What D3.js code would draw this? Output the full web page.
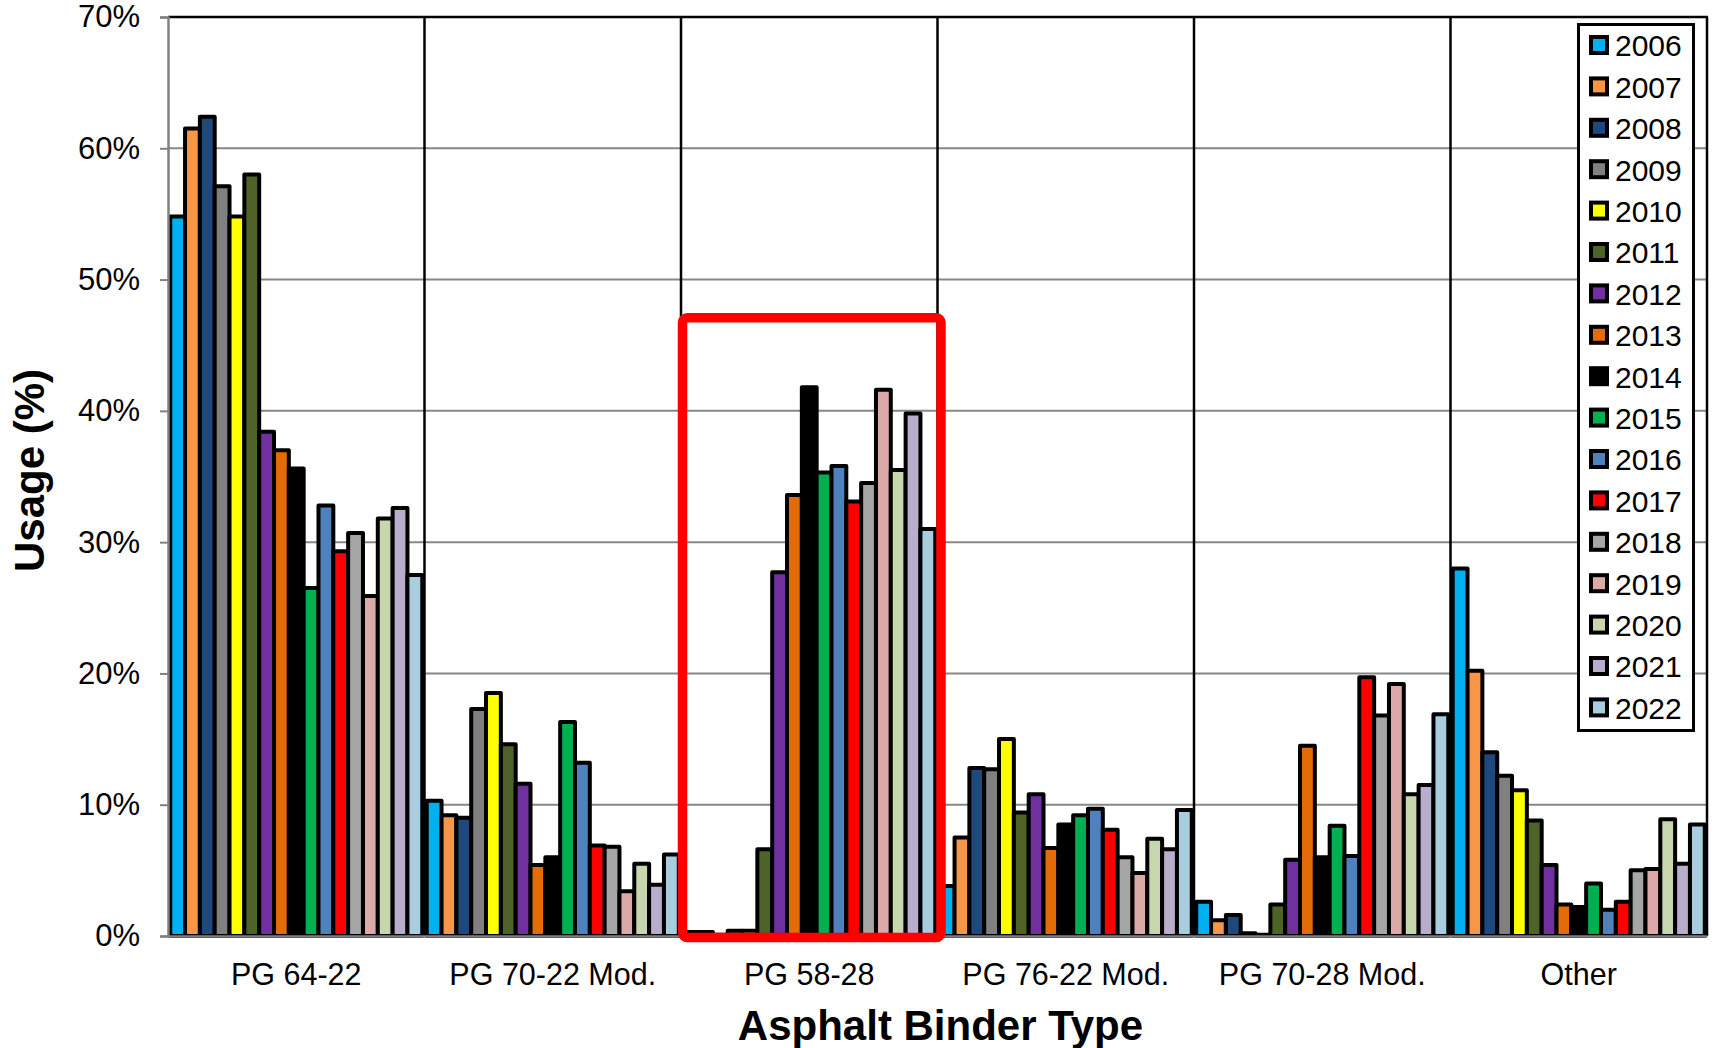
<!DOCTYPE html>
<html>
<head>
<meta charset="utf-8">
<script src="https://cdn.jsdelivr.net/npm/d3@7"></script>
<style>
  html, body { margin: 0; padding: 0; background: #fff; }
  svg { display: block; font-family: "Liberation Sans", Arial, sans-serif; }
</style>
</head>
<body>
<svg id="chart" width="1715" height="1048"></svg>
<script>
// ---- Data ----
const categories = ["PG 64-22", "PG 70-22 Mod.", "PG 58-28", "PG 76-22 Mod.", "PG 70-28 Mod.", "Other"];
const years = ["2006","2007","2008","2009","2010","2011","2012","2013","2014","2015","2016","2017","2018","2019","2020","2021","2022"];
const yearColors = ["#00B0F0","#F79646","#1F497D","#808080","#FFFF00","#4F6228","#7030A0","#E36C09","#000000","#00B050","#4F81BD","#FF0000","#A6A6A6","#DAA9A8","#C8D6AE","#B8ADCA","#A8CDDE"];

// usage (%) per category, one value per year 2006..2022
const pg6422  = [54.8, 61.5, 62.4, 57.1, 54.8, 58.0, 38.4, 37.0, 35.6, 26.5, 32.8, 29.3, 30.7, 25.9, 31.8, 32.6, 27.5];
const pg7022  = [10.3,  9.2,  9.0, 17.3, 18.5, 14.6, 11.6,  5.4,  6.0, 16.3, 13.2,  6.9,  6.8,  3.4,  5.5,  3.9,  6.2];
const pg5828  = [ 0.3,  0.3,  0.1,  0.4,  0.4,  6.6, 27.7, 33.6, 41.8, 35.3, 35.8, 33.1, 34.5, 41.6, 35.5, 39.8, 31.0];
const pg7622  = [ 3.8,  7.5, 12.8, 12.7, 15.0,  9.4, 10.8,  6.7,  8.5,  9.2,  9.7,  8.1,  6.0,  4.8,  7.4,  6.6,  9.6];
const pg7028  = [ 2.6,  1.2,  1.6,  0.2,  0.1,  2.4,  5.8, 14.5,  6.0,  8.4,  6.1, 19.7, 16.8, 19.2, 10.8, 11.5, 16.9];
const other   = [28.0, 20.2, 14.0, 12.2, 11.1,  8.8,  5.4,  2.4,  2.2,  4.0,  2.0,  2.6,  5.0,  5.1,  8.9,  5.5,  8.5];
const seriesByCategory = [pg6422, pg7022, pg5828, pg7622, pg7028, other];

const yTicks = [0, 10, 20, 30, 40, 50, 60, 70];
const highlighted = "PG 58-28";
const highlightTop = 47.1;

// ---- Layout ----
const svg = d3.select("#chart");
const plotLeft = 168, plotRight = 1707, plotTop = 17, plotBottom = 936;

const x0 = d3.scaleBand().domain(categories).range([plotLeft, plotRight]).padding(0);
const x1 = d3.scaleBand().domain(years).range([0, x0.bandwidth()]).paddingInner(0).paddingOuter(0.15);
const y = d3.scaleLinear().domain([0, 70]).range([plotBottom, plotTop]);
const color = d3.scaleOrdinal().domain(years).range(yearColors);

// gridlines
svg.append("g")
  .selectAll("line")
  .data(yTicks.filter(d => d > 0 && d < 70))
  .join("line")
  .attr("x1", plotLeft).attr("x2", plotRight)
  .attr("y1", d => y(d)).attr("y2", d => y(d))
  .attr("stroke", "#878787").attr("stroke-width", 2);

// top border and right border
svg.append("line").attr("x1", plotLeft).attr("x2", plotRight + 1)
  .attr("y1", y(70)).attr("y2", y(70)).attr("stroke", "#000").attr("stroke-width", 2.5);
svg.append("line").attr("x1", plotRight).attr("x2", plotRight)
  .attr("y1", y(70)).attr("y2", y(0)).attr("stroke", "#000").attr("stroke-width", 2.5);

// group separators
svg.append("g")
  .selectAll("line")
  .data(categories.slice(1))
  .join("line")
  .attr("x1", d => x0(d)).attr("x2", d => x0(d))
  .attr("y1", y(70)).attr("y2", y(0))
  .attr("stroke", "#000").attr("stroke-width", 2.5);

// bars
const rows = categories.map((c, i) => ({ cat: c, values: years.map((yr, j) => ({ year: yr, value: seriesByCategory[i][j] })) }));
svg.append("g")
  .selectAll("g")
  .data(rows)
  .join("g")
  .attr("transform", d => `translate(${x0(d.cat)},0)`)
  .selectAll("rect")
  .data(d => d.values)
  .join("rect")
  .attr("x", d => x1(d.year))
  .attr("width", x1.bandwidth())
  .attr("y", d => y(d.value))
  .attr("height", d => y(0) - y(d.value))
  .attr("fill", d => color(d.year))
  .attr("stroke", "#000")
  .attr("stroke-width", 4)
  .attr("stroke-linejoin", "round");

// y axis
const yAxis = svg.append("g")
  .attr("transform", `translate(${plotLeft},0)`)
  .call(d3.axisLeft(y).tickValues(yTicks).tickSize(8).tickPadding(20).tickFormat(d => d + "%"));
yAxis.select(".domain").attr("stroke", "#808080").attr("stroke-width", 2.5);
yAxis.selectAll(".tick line").attr("stroke", "#808080").attr("stroke-width", 2);
yAxis.selectAll(".tick text").attr("font-size", 31).attr("fill", "#000")
  .attr("font-family", "'Liberation Sans', Arial, sans-serif");

// x axis
const xAxis = svg.append("g")
  .attr("transform", `translate(0,${plotBottom})`)
  .call(d3.axisBottom(x0).tickSize(0).tickPadding(27));
xAxis.select(".domain").attr("stroke", "#808080").attr("stroke-width", 2.5);
xAxis.selectAll(".tick text").attr("font-size", 30.5).attr("fill", "#000")
  .attr("font-family", "'Liberation Sans', Arial, sans-serif");

// highlight box
svg.append("rect")
  .attr("x", x0(highlighted) + 1.5)
  .attr("y", y(highlightTop))
  .attr("width", x0.bandwidth() + 2)
  .attr("height", y(0) - y(highlightTop) + 1.5)
  .attr("rx", 5).attr("ry", 5)
  .attr("fill", "none")
  .attr("stroke", "#FF0000")
  .attr("stroke-width", 9.5);

// axis titles
svg.append("text")
  .attr("x", (plotLeft + plotRight) / 2 + 3)
  .attr("y", 1040)
  .attr("text-anchor", "middle")
  .attr("font-size", 42).attr("font-weight", "bold")
  .text("Asphalt Binder Type");

svg.append("text")
  .attr("transform", `translate(44,${(plotTop + plotBottom) / 2 - 6}) rotate(-90)`)
  .attr("text-anchor", "middle")
  .attr("font-size", 42).attr("font-weight", "bold")
  .text("Usage (%)");

// legend
const legend = svg.append("g");
const legendItemH = 41.4;
legend.append("rect")
  .attr("x", 1578.5).attr("y", 24.5)
  .attr("width", 115).attr("height", 706)
  .attr("fill", "#fff").attr("stroke", "#000").attr("stroke-width", 3);
const items = legend.selectAll("g.item")
  .data(years)
  .join("g")
  .attr("class", "item")
  .attr("transform", (d, i) => `translate(1591,${45.5 + i * legendItemH})`);
items.append("rect")
  .attr("x", 0).attr("y", -8.5)
  .attr("width", 16).attr("height", 16)
  .attr("fill", d => color(d))
  .attr("stroke", "#000").attr("stroke-width", 4);
items.append("text")
  .attr("x", 24).attr("y", 0)
  .attr("dy", "0.36em")
  .attr("font-size", 30)
  .text(d => d);
</script>
</body>
</html>
